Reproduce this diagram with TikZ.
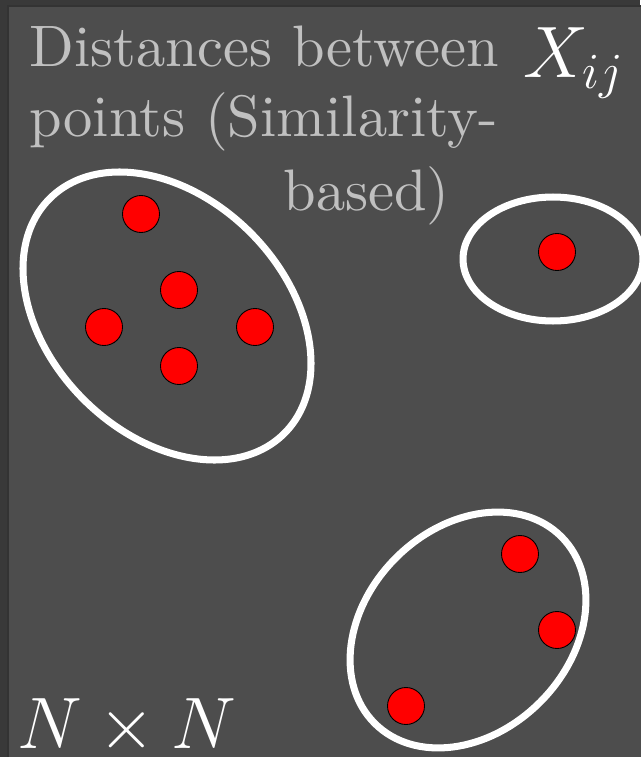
\documentclass[tikz,border=0pt]{standalone}
\usepackage{amsmath}
\usepackage{tikz}
\usetikzlibrary{positioning}
\definecolor{slate}{HTML}{4D4D4D}
\definecolor{frame}{HTML}{393939}
\definecolor{pale}{HTML}{C0C0C0}
\newcommand{\bigmath}[1]{\scalebox{2}{\fontsize{20.74}{25}\selectfont$#1$}}
\newcommand{\headtext}[1]{\scalebox{3.33}{\fontsize{10}{12}\selectfont #1}}

\begin{document}
\begin{tikzpicture}[x=0.02cm, y=-0.02cm,
  ring/.style={draw=white, line width=4pt},
  blob/.style={circle, draw=black, fill=red, line width=0.5pt, minimum size=0.74cm, inner sep=0pt},
  lbl/.style={text=pale, inner sep=0pt},
  sym/.style={text=white, inner sep=0pt}]
\useasboundingbox (0,0) rectangle (640,757);
\fill[frame] (0,0) rectangle (640,757);
\filldraw[fill=slate, draw=black!80, line width=0.8pt] (8,6) rectangle (645,762);
% heading
\node[lbl, anchor=base west] (dist) at (29,67) {\headtext{Distances between}};
\node[lbl, anchor=base west] (pts) at (29,136) {\headtext{points (Similarity-}};
\node[lbl, anchor=base east] (based) at (450,210) {\headtext{based)}};
\node[sym, anchor=base west] (xij) at (523,78) {\bigmath{X_{ij}}};
\node[sym, anchor=base west] (nxn) at (17,748) {\bigmath{N \times N}};
% clusters
\draw[ring] (167,316) ellipse [x radius=3.32cm, y radius=2.36cm, rotate=-45];
\draw[ring] (553,259) ellipse [x radius=1.8cm, y radius=1.24cm];
\draw[ring] (468,630) ellipse [x radius=2.64cm, y radius=2.04cm, rotate=45];
\node[blob] (a1) at (141,214) {};
\node[blob] (a2) at (179,290) {};
\node[blob] (a3) at (104,327) {};
\node[blob] (a4) at (255,327) {};
\node[blob] (a5) at (179,366) {};
\node[blob] (b1) at (557,252) {};
\node[blob] (c1) at (520,554) {};
\node[blob] (c2) at (557,630) {};
\node[blob] (c3) at (406,706) {};
\end{tikzpicture}
\end{document}
